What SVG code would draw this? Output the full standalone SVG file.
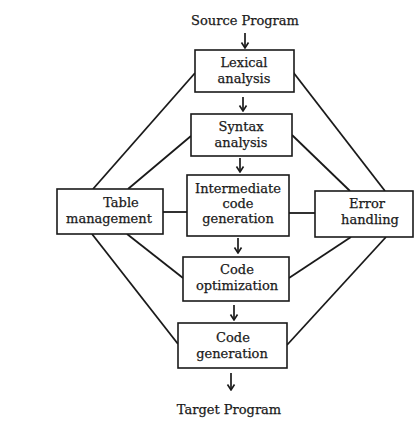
<svg xmlns="http://www.w3.org/2000/svg" width="414" height="423" viewBox="0 0 414 423">
<defs>
<marker id="ah" viewBox="0 0 10 10" refX="9.5" refY="5" markerWidth="10" markerHeight="10" markerUnits="userSpaceOnUse" orient="auto">
<path d="M4,1.5 L9.5,5 L4,8.5" fill="none" stroke="#1a1a1a" stroke-width="1.6"/>
</marker>
</defs>
<style>
.box{fill:#fff;stroke:#1a1a1a;stroke-width:1.6}
.ln{stroke:#1a1a1a;stroke-width:1.8;fill:none}
.ar{stroke:#1a1a1a;stroke-width:1.7;fill:none;marker-end:url(#ah)}
text{font-family:"DejaVu Serif","Liberation Serif",serif;font-size:13px;fill:#1a1a1a;stroke:#1a1a1a;stroke-width:0.25;text-anchor:middle}
</style>
<rect width="414" height="423" fill="#fff"/>
<g id="connectors">
<line class="ln" x1="195" y1="73" x2="93" y2="189"/>
<line class="ln" x1="191" y1="136" x2="128" y2="189"/>
<line class="ln" x1="293" y1="72" x2="385" y2="191"/>
<line class="ln" x1="292" y1="135" x2="350" y2="191"/>
<line class="ln" x1="92" y1="234" x2="178" y2="344"/>
<line class="ln" x1="127" y1="234" x2="183" y2="278"/>
<line class="ln" x1="351" y1="237" x2="289" y2="278"/>
<line class="ln" x1="386" y1="237" x2="287" y2="345"/>
<line class="ln" x1="163" y1="212" x2="187" y2="212"/>
<line class="ln" x1="289" y1="213" x2="315" y2="213"/>
<line class="ar" x1="245" y1="33" x2="245" y2="48"/>
<line class="ar" x1="243" y1="97" x2="243" y2="111"/>
<line class="ar" x1="240" y1="158" x2="240" y2="172"/>
<line class="ar" x1="238" y1="238" x2="238" y2="253"/>
<line class="ar" x1="234" y1="305" x2="234" y2="320"/>
<line class="ar" x1="231" y1="373" x2="231" y2="390"/>
</g>
<g id="source"><text x="245" y="25">Source Program</text></g>
<g id="lexical">
<rect class="box" x="195" y="50" width="99" height="42"/>
<text x="244" y="67">Lexical</text>
<text x="244" y="83">analysis</text>
</g>
<g id="syntax">
<rect class="box" x="191" y="114" width="101" height="42"/>
<text x="241" y="131">Syntax</text>
<text x="241" y="147">analysis</text>
</g>
<g id="intermediate">
<rect class="box" x="187" y="175" width="102" height="61"/>
<text x="238" y="193">Intermediate</text>
<text x="238" y="208">code</text>
<text x="238" y="223">generation</text>
</g>
<g id="table">
<rect class="box" x="57" y="189" width="106" height="45"/>
<text x="121" y="207">Table</text>
<text x="109" y="223">management</text>
</g>
<g id="error">
<rect class="box" x="315" y="191" width="98" height="46"/>
<text x="367" y="208">Error</text>
<text x="370" y="224">handling</text>
</g>
<g id="optimization">
<rect class="box" x="183" y="257" width="106" height="44"/>
<text x="237" y="274">Code</text>
<text x="237" y="290">optimization</text>
</g>
<g id="codegen">
<rect class="box" x="178" y="323" width="109" height="45"/>
<text x="233" y="342">Code</text>
<text x="232" y="358">generation</text>
</g>
<g id="target"><text x="229" y="414">Target Program</text></g>
</svg>
